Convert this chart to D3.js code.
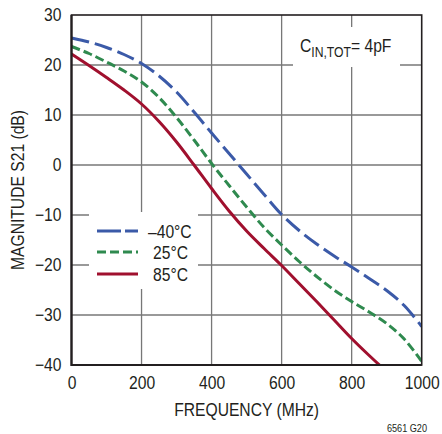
<!DOCTYPE html>
<html><head><meta charset="utf-8">
<script src="https://cdn.jsdelivr.net/npm/d3@7"></script>
<style>body{margin:0;background:#fff}svg{display:block}text{font-family:"Liberation Sans",Arial,sans-serif;fill:#231f20}</style>
</head><body>
<svg id="c" width="442" height="434"></svg>
<script>
const freqs = [0,50,100,150,200,250,300,350,400,450,500,550,600,650,700,750,800,850,900,950,1000];
const blueVals  = [25.4,24.6,23.5,22.1,20.3,17.8,14.6,10.6,6.4,2.3,-1.8,-5.9,-9.9,-13.1,-15.8,-18.2,-20.4,-22.7,-25.1,-28.1,-32.3];
const greenVals = [23.7,22.3,20.6,18.8,16.6,13.5,9.5,5.0,0.3,-4.1,-8.4,-12.5,-16.0,-19.3,-22.3,-25.0,-27.3,-29.4,-31.7,-34.8,-39.3];
const redVals   = [22.2,19.9,17.5,15.0,12.2,8.7,4.6,0.0,-4.7,-9.2,-13.2,-16.7,-20.1,-23.7,-27.3,-31.0,-34.7,-38.1,-41.3,-44.3,-47.3];
const seriesNames = ["\u201340\u00b0C","25\u00b0C","85\u00b0C"];
const xTicks = [0,200,400,600,800,1000];
const yTicks = [-40,-30,-20,-10,0,10,20,30];

const SX = 0.87; // horizontal condensing of the sans font
const svg = d3.select("#c");
const x = d3.scaleLinear().domain([0,1000]).range([71.5,421.7]);
const y = d3.scaleLinear().domain([-40,30]).range([365,15]);

const series = [
  {name:seriesNames[0], vals:blueVals, color:"#3b5aa8", dash:"18,6", ldash:"24,4"},
  {name:seriesNames[1], vals:greenVals, color:"#2f8a4f", dash:"9,4", ldash:"9,4"},
  {name:seriesNames[2], vals:redVals, color:"#a0102e", dash:null, ldash:null}
];

function label(px, py, txt, size, anchor, rot){
  const t = svg.append("text")
    .attr("transform",`translate(${px},${py})${rot?" rotate("+rot+")":""} scale(${SX},1)`)
    .attr("font-size",size).attr("text-anchor",anchor||"start");
  if (txt) t.text(txt);
  return t;
}

// grid
const grid = svg.append("g");
grid.selectAll("line.v").data(xTicks.slice(1,-1)).join("line")
  .attr("x1",d=>x(d)).attr("x2",d=>x(d)).attr("y1",y(30)).attr("y2",y(-40))
  .attr("stroke","#777").attr("stroke-width",1.3);
grid.selectAll("line.h").data(yTicks.slice(1,-1)).join("line")
  .attr("x1",x(0)).attr("x2",x(1000)).attr("y1",d=>y(d)).attr("y2",d=>y(d))
  .attr("stroke","#777").attr("stroke-width",1.3);

// boxes covering the grid
svg.append("rect").attr("x",293).attr("y",27).attr("width",107).attr("height",40).attr("fill","#fff");
svg.append("rect").attr("x",89).attr("y",212).attr("width",109).attr("height",77).attr("fill","#fff");

// clip
svg.append("clipPath").attr("id","clip").append("rect")
  .attr("x",x(0)).attr("y",y(30)).attr("width",x(1000)-x(0)).attr("height",y(-40)-y(30));

const line = d3.line().x((d,i)=>x(freqs[i])).y(d=>y(d)).curve(d3.curveCatmullRom.alpha(0.5));
const lg = svg.append("g").attr("clip-path","url(#clip)");
series.slice().reverse().forEach(s=>{
  lg.append("path").attr("d",line(s.vals)).attr("fill","none")
    .attr("stroke",s.color).attr("stroke-width",3)
    .attr("stroke-dasharray",s.dash);
});

// frame
svg.append("rect").attr("x",x(0)).attr("y",y(30)).attr("width",x(1000)-x(0)).attr("height",y(-40)-y(30))
  .attr("fill","none").attr("stroke","#231f20").attr("stroke-width",1.6);
svg.append("path").attr("d",`M${x(0)},${y(30)}V${y(-40)}H${x(1000)}`).attr("fill","none").attr("stroke","#231f20").attr("stroke-width",2.2);

// axes
const yAxis = d3.axisLeft(y).tickValues(yTicks).tickSize(0).tickPadding(10)
  .tickFormat(d=>d<0?"\u2212"+Math.abs(d):d);
const gy = svg.append("g").attr("transform",`translate(${x(0)},0)`).call(yAxis);
gy.select(".domain").remove();
gy.selectAll("text").attr("font-size",18).attr("font-family",null).attr("fill","#231f20")
  .attr("x",-10/SX).attr("transform",`scale(${SX},1)`);

const xAxis = d3.axisBottom(x).tickValues(xTicks).tickSize(0).tickPadding(11).tickFormat(d3.format("d"));
const gx = svg.append("g").attr("transform",`translate(0,${y(-40)})`).call(xAxis);
gx.select(".domain").remove();
gx.selectAll("text").attr("font-size",18).attr("font-family",null).attr("fill","#231f20")
  .attr("transform",`scale(${SX},1)`);

// titles
label(246.6, 416, "FREQUENCY (MHz)", 18, "middle");
label(24, 190, "MAGNITUDE S21 (dB)", 18, "middle", -90);
label(427, 432, "6561 G20", 10.5, "end");

// annotation
const ann = label(300, 52, null, 18, "start");
ann.append("tspan").text("C");
ann.append("tspan").attr("font-size",14).attr("dy",5).text("IN,TOT");
ann.append("tspan").attr("dy",-5).text("= 4pF");

// legend
const ly = [231,252,274];
series.forEach((s,i)=>{
  svg.append("line").attr("x1",97).attr("x2",138).attr("y1",ly[i]).attr("y2",ly[i])
    .attr("stroke",s.color).attr("stroke-width",3).attr("stroke-dasharray",s.ldash);
  label(i==0?148:153, ly[i]+7, s.name, 18, "start");
});
</script>
</body></html>
